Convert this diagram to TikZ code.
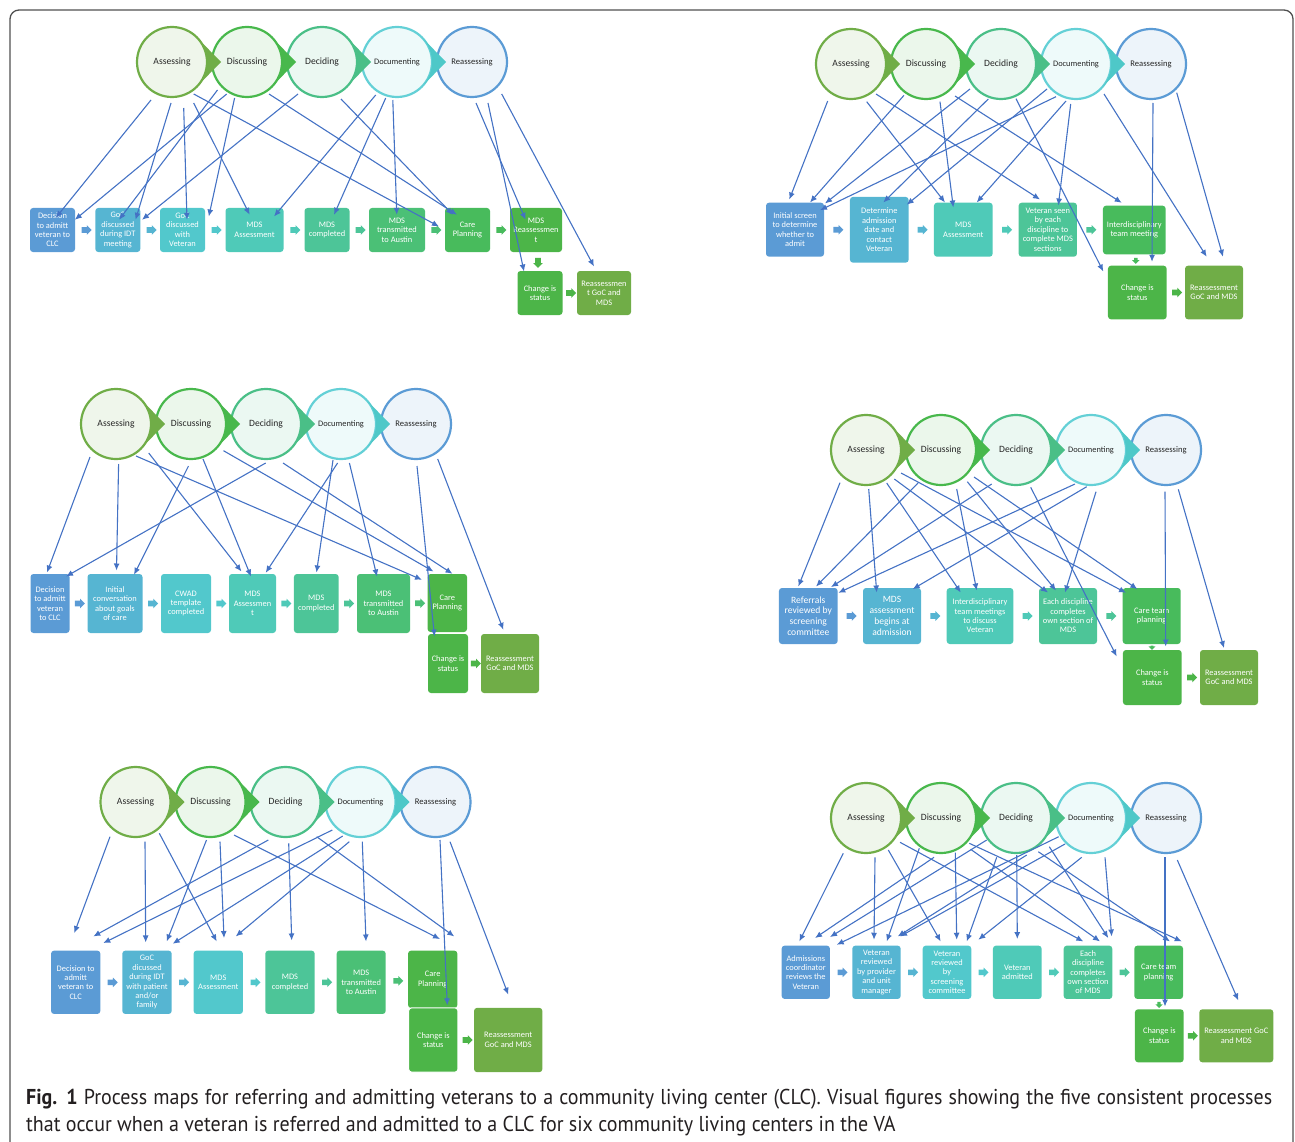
\documentclass[tikz,border=0pt]{standalone}
\usepackage{fontspec}
\setmainfont{Carlito}
\newfontfamily\capfont[FakeStretch=0.93]{PT Sans}
\usetikzlibrary{shapes,arrows,arrows.meta,positioning,calc}
\definecolor{frameGray}{RGB}{80,80,80}
\definecolor{capText}{RGB}{35,31,32}
\definecolor{linkBlue}{RGB}{68,114,196}
\definecolor{bxBlue}{RGB}{91,155,213}
\definecolor{bxSky}{RGB}{86,181,210}
\definecolor{bxCyan}{RGB}{82,200,204}
\definecolor{bxTeal}{RGB}{79,202,184}
\definecolor{bxSea}{RGB}{77,197,152}
\definecolor{bxGreen}{RGB}{75,192,118}
\definecolor{bxLeaf}{RGB}{72,187,92}
\definecolor{bxLime}{RGB}{76,181,72}
\definecolor{bxOlive}{RGB}{112,173,71}
\definecolor{sgAss}{RGB}{112,173,71}
\definecolor{sgDis}{RGB}{72,184,76}
\definecolor{sgDec}{RGB}{74,191,135}
\definecolor{sgDoc}{RGB}{100,208,214}
\definecolor{sgDocW}{RGB}{78,200,200}
\definecolor{sgRea}{RGB}{91,155,213}
\tikzset{
  stage/.style={circle, draw=#1, fill=#1!11, line width=2.2pt, minimum size=70pt,
    inner sep=0pt, outer sep=0pt, text=black!85},
  pbox/.style={fill=#1, rounded corners=3pt, text=white, align=center, inner sep=1pt,
    font=\fontsize{8.4}{9.4}\selectfont},
  bigtext/.style={font=\fontsize{9.6}{10.8}\selectfont},
  blk/.style={single arrow, fill=#1, draw=none, minimum height=10pt,
    single arrow head extend=2pt, inner sep=2.6pt},
  flow/.style={->, draw=linkBlue, line width=1.1pt}
}

\begin{document}
\begin{tikzpicture}[x=1pt, y=-1pt, >={Latex[length=7pt,width=6pt]}]
    \useasboundingbox (0,0) rectangle (1295,1142);
    \draw[frameGray, line width=1.3pt, rounded corners=9pt] (10,1160) -- (10,10) -- (1293,10) -- (1293,1160);

    % the five stages, once per centre
    \foreach \p/\x/\y in {p1/172/62, p2/851/64, p3/116/424, p4/866/450, p5/135.5/802, p6/866/818} {
        \foreach \s/\t/\c/\f [count=\i] in {ass/Assessing/sgAss/9.6, dis/Discussing/sgDis/9.6, dec/Deciding/sgDec/9.6, doc/Documenting/sgDoc/8.4, rea/Reassessing/sgRea/8.6} {
            \node[stage=\c, font=\fontsize{\f}{\f}\selectfont] (\p\s) at ({\x+75*(\i-1)},\y) {\t};
        }
        \foreach \s/\c in {ass/sgAss, dis/sgDis, dec/sgDec, doc/sgDocW} {
            \fill[\c] ($(\p\s.center)+(49pt,0)$) -- (\p\s.44) arc[start angle=44, end angle=-44, radius=35pt] -- cycle;
        }
    }

    % centre 1
    \node[pbox=bxBlue, minimum width=45, minimum height=44] (p1b1) at (52.5,230) {Decision\\to admitt\\veteran to\\CLC};
    \node[pbox=bxSky, minimum width=45, minimum height=44] (p1b2) at (117.8,230) {GoC\\discussed\\during IDT\\meeting};
    \node[pbox=bxCyan, minimum width=45, minimum height=44] (p1b3) at (182.5,230) {GoC\\discussed\\with\\Veteran};
    \node[pbox=bxTeal, minimum width=58, minimum height=44] (p1b4) at (254.5,230) {MDS\\Assessment};
    \node[pbox=bxSea, minimum width=45, minimum height=44] (p1b5) at (327,230) {MDS\\completed};
    \node[pbox=bxGreen, minimum width=56, minimum height=44] (p1b6) at (397,230) {MDS\\transmitted\\to Austin};
    \node[pbox=bxLeaf, minimum width=45, minimum height=44] (p1b7) at (467.5,230) {Care\\Planning};
    \node[pbox=bxLime, minimum width=52, minimum height=44] (p1b8) at (536,230) {MDS\\Reassessmen\\t};
    \node[pbox=bxLime, minimum width=45, minimum height=44] (p1b9) at (540,293) {Change is\\status};
    \node[pbox=bxOlive, minimum width=54, minimum height=44] (p1b10) at (604,293) {Reassessmen\\t GoC and\\MDS};
    \foreach \lf/\rt/\c [count=\k] in {b1/b2/bxBlue, b2/b3/bxSky, b3/b4/bxCyan, b4/b5/bxTeal, b5/b6/bxSea, b6/b7/bxGreen, b7/b8/bxLeaf, b9/b10/bxLime}
        \node[blk=\c] (p1a\k) at ($(p1\lf.east)!.5!(p1\rt.west)$) {};
    \node[blk=bxLime, shape border rotate=270] (p1down) at ($(p1b8.south)!.5!(p1b9.north)$) {};
    \foreach \ci/\ux/\uy/\bo/\vx/\vy in {ass/-21/38/b1/3.3/10, ass/-1/41/b2/17.7/12, ass/11.7/46/b3/4.5/12,
        ass/21.7/41/b4/-4.8/7, ass/21.7/32/b7/-28.5/18.7, dis/-29.5/28/b2/1.2/12, dis/-20.3/32/b1/22.3/12,
        dis/-12.4/36/b3/26.3/8.7, dis/22/32/b7/-10.5/7, dec/-24/32/b2/24.2/12, dec/19/37/b7/-14.5/7,
        doc/-21.3/33/b4/19.5/8.7, doc/-11.3/36/b5/7/7, doc/-4.2/38/b6/-0.2/7, rea/4/41/b8/-10.4/12,
        rea/16/41/b9/-16/0.7, rea/29.7/32/b10/-10/-4.3}
        \draw[flow] ($(p1\ci)+(\ux,\uy)$) -- ($(p1\bo.north)+(\vx,\vy)$);

    % centre 2
    \node[pbox=bxBlue, minimum width=58, minimum height=54] (p2b1) at (795,229.7) {Initial screen\\to determine\\whether to\\admit};
    \node[pbox=bxSky, minimum width=58.7, minimum height=65.7] (p2b2) at (879.3,229.8) {Determine\\admission\\date and\\contact\\Veteran};
    \node[pbox=bxTeal, minimum width=58.7, minimum height=54] (p2b3) at (963.3,229.7) {MDS\\Assessment};
    \node[pbox=bxSea, minimum width=58.3, minimum height=54] (p2b4) at (1047.8,229.7) {Veteran seen\\by each\\discipline to\\complete MDS\\sections};
    \node[pbox=bxLeaf, minimum width=62.7, minimum height=48.6] (p2b5) at (1134.3,230) {Interdisciplinary\\team meeting};
    \node[pbox=bxLime, minimum width=58.7, minimum height=53.6] (p2b6) at (1137.3,292.5) {Change is\\status};
    \node[pbox=bxOlive, minimum width=58, minimum height=53.6] (p2b7) at (1214,292.5) {Reassessment\\GoC and MDS};
    \foreach \lf/\rt/\c [count=\k] in {b1/b2/bxBlue, b2/b3/bxSky, b3/b4/bxTeal, b4/b5/bxSea, b6/b7/bxLime}
        \node[blk=\c] (p2a\k) at ($(p2\lf.east)!.5!(p2\rt.west)$) {};
    \node[blk=bxLeaf, shape border rotate=270, minimum height=6pt, inner sep=1.5pt] (p2down) at ($(p2b5.south)!.5!(p2b6.north)$) {};
    \foreach \ci/\ux/\uy/\bo/\vx/\vy in {ass/-23.3/37/b1/-5.7/-3, ass/15.7/37.7/b3/-18.3/0, ass/25/30/b4/-7.8/-3,
        dis/-22/31.3/b1/15/0, dis/14/37.7/b3/-10/5, dis/29/32/b5/-12.6/-2.7, dec/-31/25/b1/30/1,
        dec/-12.7/35/b2/4/5.7, dec/15/34.7/b6/-34/6, doc/-29/25/b2/27.4/8, doc/-20/32.7/b1/25/7.7,
        doc/-10/37/b3/13.4/0, doc/-5.3/40/b4/10.5/3, doc/28/30/b7/-7.3/-8.7, rea/2/39/b6/14.7/-3.7,
        rea/25.7/28.7/b7/9/-8.7}
        \draw[flow] ($(p2\ci)+(\ux,\uy)$) -- ($(p2\bo.north)+(\vx,\vy)$);

    % centre 3
    \node[pbox=bxBlue, minimum width=39, minimum height=59] (p3b1) at (50,603.5) {Decision\\to admitt\\veteran\\to CLC};
    \node[pbox=bxSky, minimum width=55, minimum height=59] (p3b2) at (115,603.5) {Initial\\conversation\\about goals\\of care};
    \node[pbox=bxCyan, minimum width=50, minimum height=59] (p3b3) at (186,603.5) {CWAD\\template\\completed};
    \node[pbox=bxTeal, minimum width=47, minimum height=59] (p3b4) at (252.5,603.5) {MDS\\Assessmen\\t};
    \node[pbox=bxSea, minimum width=44.7, minimum height=59] (p3b5) at (316.3,603.5) {MDS\\completed};
    \node[pbox=bxGreen, minimum width=53, minimum height=59] (p3b6) at (383.5,603.5) {MDS\\transmitted\\to Austin};
    \node[pbox=bxLime, minimum width=39.4, minimum height=58] (p3b7) at (447.3,603) {Care\\Planning};
    \node[pbox=bxLime, minimum width=40, minimum height=59] (p3b8) at (448,663.5) {Change is\\status};
    \node[pbox=bxOlive, minimum width=58, minimum height=59] (p3b9) at (510,663.5) {Reassessment\\GoC and MDS};
    \foreach \lf/\rt/\c [count=\k] in {b1/b2/bxBlue, b2/b3/bxSky, b3/b4/bxCyan, b4/b5/bxTeal, b5/b6/bxSea, b6/b7/bxGreen, b8/b9/bxLime}
        \node[blk=\c] (p3a\k) at ($(p3\lf.east)!.5!(p3\rt.west)$) {};
    \foreach \ci/\ux/\uy/\bo/\vx/\vy in {ass/-26/33/b1/-3/-1.3, ass/2.6/40/b2/1.5/-3.3, ass/20/32/b7/-25.3/6,
        ass/32.7/29/b4/-11/-2.3, dis/-2.5/42/b2/19/1, dis/12/35/b4/-1.5/2.7, dis/32.5/26.7/b7/-13.8/-2.3,
        dec/-0.3/39/b1/16/2.7, dec/17/39/b7/5.2/0, doc/-8/36/b5/0.2/-1.3, doc/-3.4/39/b4/13.2/-1,
        doc/8.4/39/b6/-6.5/2.7, rea/1/42/b8/-13.5/2.7, rea/21.7/35/b9/-6.6/-4}
        \draw[flow] ($(p3\ci)+(\ux,\uy)$) -- ($(p3\bo.north)+(\vx,\vy)$);

    % centre 4
    \node[pbox=bxBlue, bigtext, minimum width=58.7, minimum height=56] (p4b1) at (808.3,616) {Referrals\\reviewed by\\screening\\committee};
    \node[pbox=bxSky, bigtext, minimum width=58, minimum height=56] (p4b2) at (892,616) {MDS\\assessment\\begins at\\admission};
    \node[pbox=bxTeal, minimum width=66.6, minimum height=56] (p4b3) at (980,616) {Interdisciplinary\\team meetings\\to discuss\\Veteran};
    \node[pbox=bxSea, minimum width=58, minimum height=56] (p4b4) at (1068,616) {Each discipline\\completes\\own section of\\MDS};
    \node[pbox=bxLeaf, minimum width=58, minimum height=56] (p4b5) at (1151.7,616) {Care team\\planning};
    \node[pbox=bxLime, minimum width=58.7, minimum height=55] (p4b6) at (1152.3,677.5) {Change is\\status};
    \node[pbox=bxOlive, minimum width=58, minimum height=55] (p4b7) at (1229,677.5) {Reassessment\\GoC and MDS};
    \foreach \lf/\rt/\c [count=\k] in {b1/b2/bxBlue, b2/b3/bxSky, b3/b4/bxTeal, b4/b5/bxSea, b6/b7/bxLime}
        \node[blk=\c] (p4a\k) at ($(p4\lf.east)!.5!(p4\rt.west)$) {};
    \node[blk=bxLeaf, shape border rotate=270, minimum height=4pt, inner sep=1.2pt] (p4down) at ($(p4b5.south)!.5!(p4b6.north)$) {};
    \foreach \ci/\ux/\uy/\bo/\vx/\vy in {ass/-26/32.7/b1/-10/-1.3, ass/2.7/39/b2/-15.3/4.7, ass/20.7/33/b3/-19.3/4.7,
        ass/28.3/29/b4/-20/4.7, ass/35/23/b5/-25.7/5, dis/-23/33/b1/7.7/-1.3, dis/15.7/39/b3/-3.3/2.7,
        dis/26.3/31.7/b4/-12/2.7, dis/33/27/b5/-14.4/1.3, dec/-24.3/34/b1/22.7/-0.7, dec/14.7/37.3/b6/-35.6/6.7,
        doc/-16/34/b1/30/5, doc/-4.3/36.7/b2/20.7/1.3, doc/5/41.7/b4/-3/4.7, rea/-1/41.7/b6/13.4/-3.3,
        rea/12.3/39.3/b7/-5/-1.7}
        \draw[flow] ($(p4\ci)+(\ux,\uy)$) -- ($(p4\bo.north)+(\vx,\vy)$);

    % centre 5
    \node[pbox=bxBlue, minimum width=49.3, minimum height=63.3] (p5b1) at (75.7,982.3) {Decision to\\admitt\\veteran to\\CLC};
    \node[pbox=bxSky, minimum width=49.4, minimum height=63.3] (p5b2) at (147,982.3) {GoC\\dicussed\\during IDT\\with patient\\and/or\\family};
    \node[pbox=bxCyan, minimum width=49.3, minimum height=63.3] (p5b3) at (218.3,982.3) {MDS\\Assessment};
    \node[pbox=bxSea, minimum width=49.4, minimum height=63.3] (p5b4) at (290,982.3) {MDS\\completed};
    \node[pbox=bxGreen, minimum width=49, minimum height=63.3] (p5b5) at (361.2,982.3) {MDS\\transmitted\\to Austin};
    \node[pbox=bxLime, minimum width=49.3, minimum height=57.3] (p5b6) at (432.7,979.3) {Care\\Planning};
    \node[pbox=bxLime, draw=white, line width=1pt, minimum width=49.3, minimum height=64.3] (p5b7) at (433.3,1040) {Change is\\status};
    \node[pbox=bxOlive, minimum width=68.3, minimum height=64.3] (p5b8) at (508.2,1040) {Reassessment\\GoC and MDS};
    \foreach \lf/\rt/\c [count=\k] in {b1/b2/bxBlue, b2/b3/bxSky, b3/b4/bxCyan, b4/b5/bxSea, b5/b6/bxGreen, b7/b8/bxLime}
        \node[blk=\c] (p5a\k) at ($(p5\lf.east)!.5!(p5\rt.west)$) {};
    \foreach \ci/\ux/\uy/\bo/\vx/\vy in {ass/-25.5/34.7/b1/-1.4/-17.4, ass/9.5/39.7/b2/-1.3/-8, ass/23.8/31.3/b3/-1.6/-9,
        dis/-4/38/b2/19.7/-9, dis/9.5/39.7/b3/5.7/-12.4, dis/23.5/33/b6/7.3/-11.4, dec/-17.2/38/b1/17.6/-14,
        dec/3.2/41.3/b4/1.7/-10, dec/31.2/34.7/b6/21.6/-14, doc/-28.2/28/b1/27.6/-7.4, doc/-17.8/34/b2/25.7/-6.7,
        doc/-11.2/39.7/b3/17.4/-14, doc/1.8/39.7/b5/4.8/-9, rea/4.5/38/b7/14/-2, rea/14.5/39.7/b8/0.1/-13}
        \draw[flow] ($(p5\ci)+(\ux,\uy)$) -- ($(p5\bo.north)+(\vx,\vy)$);

    % centre 6
    \node[pbox=bxBlue, minimum width=48.3, minimum height=53.3] (p6b1) at (805.8,972.3) {Admissions\\coordinator\\reviews the\\Veteran};
    \node[pbox=bxSky, minimum width=48.4, minimum height=53.3] (p6b2) at (876.5,972.3) {Veteran\\reviewed\\by provider\\and unit\\manager};
    \node[pbox=bxCyan, minimum width=48.6, minimum height=53.3] (p6b3) at (947,972.3) {Veteran\\reviewed\\by\\screening\\committee};
    \node[pbox=bxTeal, minimum width=48.7, minimum height=53.3] (p6b4) at (1017.3,972.3) {Veteran\\admitted};
    \node[pbox=bxSea, minimum width=48.6, minimum height=53.3] (p6b5) at (1088,972.3) {Each\\discipline\\completes\\own section\\of MDS};
    \node[pbox=bxLeaf, minimum width=48.7, minimum height=53.3] (p6b6) at (1158.7,972.3) {Care team\\planning};
    \node[pbox=bxLime, minimum width=48.7, minimum height=53] (p6b7) at (1159.3,1035.8) {Change is\\status};
    \node[pbox=bxOlive, minimum width=74, minimum height=53] (p6b8) at (1236.3,1035.8) {Reassessment GoC\\and MDS};
    \foreach \lf/\rt/\c [count=\k] in {b1/b2/bxBlue, b2/b3/bxSky, b3/b4/bxCyan, b4/b5/bxTeal, b5/b6/bxSea, b7/b8/bxLime}
        \node[blk=\c] (p6a\k) at ($(p6\lf.east)!.5!(p6\rt.west)$) {};
    \node[blk=bxLeaf, shape border rotate=270, minimum height=6pt, inner sep=1.5pt] (p6down) at ($(p6b6.south)!.5!(p6b7.north)$) {};
    \foreach \ci/\ux/\uy/\bo/\vx/\vy in {ass/-22.7/35.3/b1/-6.5/-4, ass/9/39.3/b2/-2.5/-5.7, ass/22.3/32/b3/-6.3/-4,
        ass/34/24.3/b5/-4.7/-4, dis/-21.7/30.3/b2/10.2/-4, dis/-7/39.3/b1/9.2/-7.4, dis/14.3/34.7/b3/9.7/-5.7,
        dis/28.3/25.3/b6/23/-4, dis/29.7/31.3/b5/12/-4, dec/-29.3/22/b1/24.2/-8.4, dec/-19.3/39.3/b3/19.7/-4,
        dec/0.7/37/b4/0/-6.4, dec/10.7/37/b2/21.2/-9, dec/22.3/33.7/b6/11.3/-4, dec/33.3/28.7/b5/20.3/-7.4,
        doc/-32.3/18.7/b1/30.9/-0.7, doc/-26/26/b2/23.5/-9, doc/-9.3/39.3/b3/31.3/-5.7, doc/14/39.3/b5/23.7/-9,
        rea/-1/39.3/b7/5.7/-2.6, rea/11.3/42/b8/2/-8.6}
        \draw[flow] ($(p6\ci)+(\ux,\uy)$) -- ($(p6\bo.north)+(\vx,\vy)$);

    % caption
    \node[anchor=north west, inner sep=0pt, text=capText] (caption) at (26,1089) {\parbox{1246pt}{\capfont\fontsize{21.5}{27}\selectfont\hyphenpenalty=10000
        \textbf{Fig. 1} Process maps for referring and admitting veterans to a community living center (CLC). Visual figures showing the five consistent processes\linebreak
        that occur when a veteran is referred and admitted to a CLC for six community living centers in the VA}};
\end{tikzpicture}
\end{document}
